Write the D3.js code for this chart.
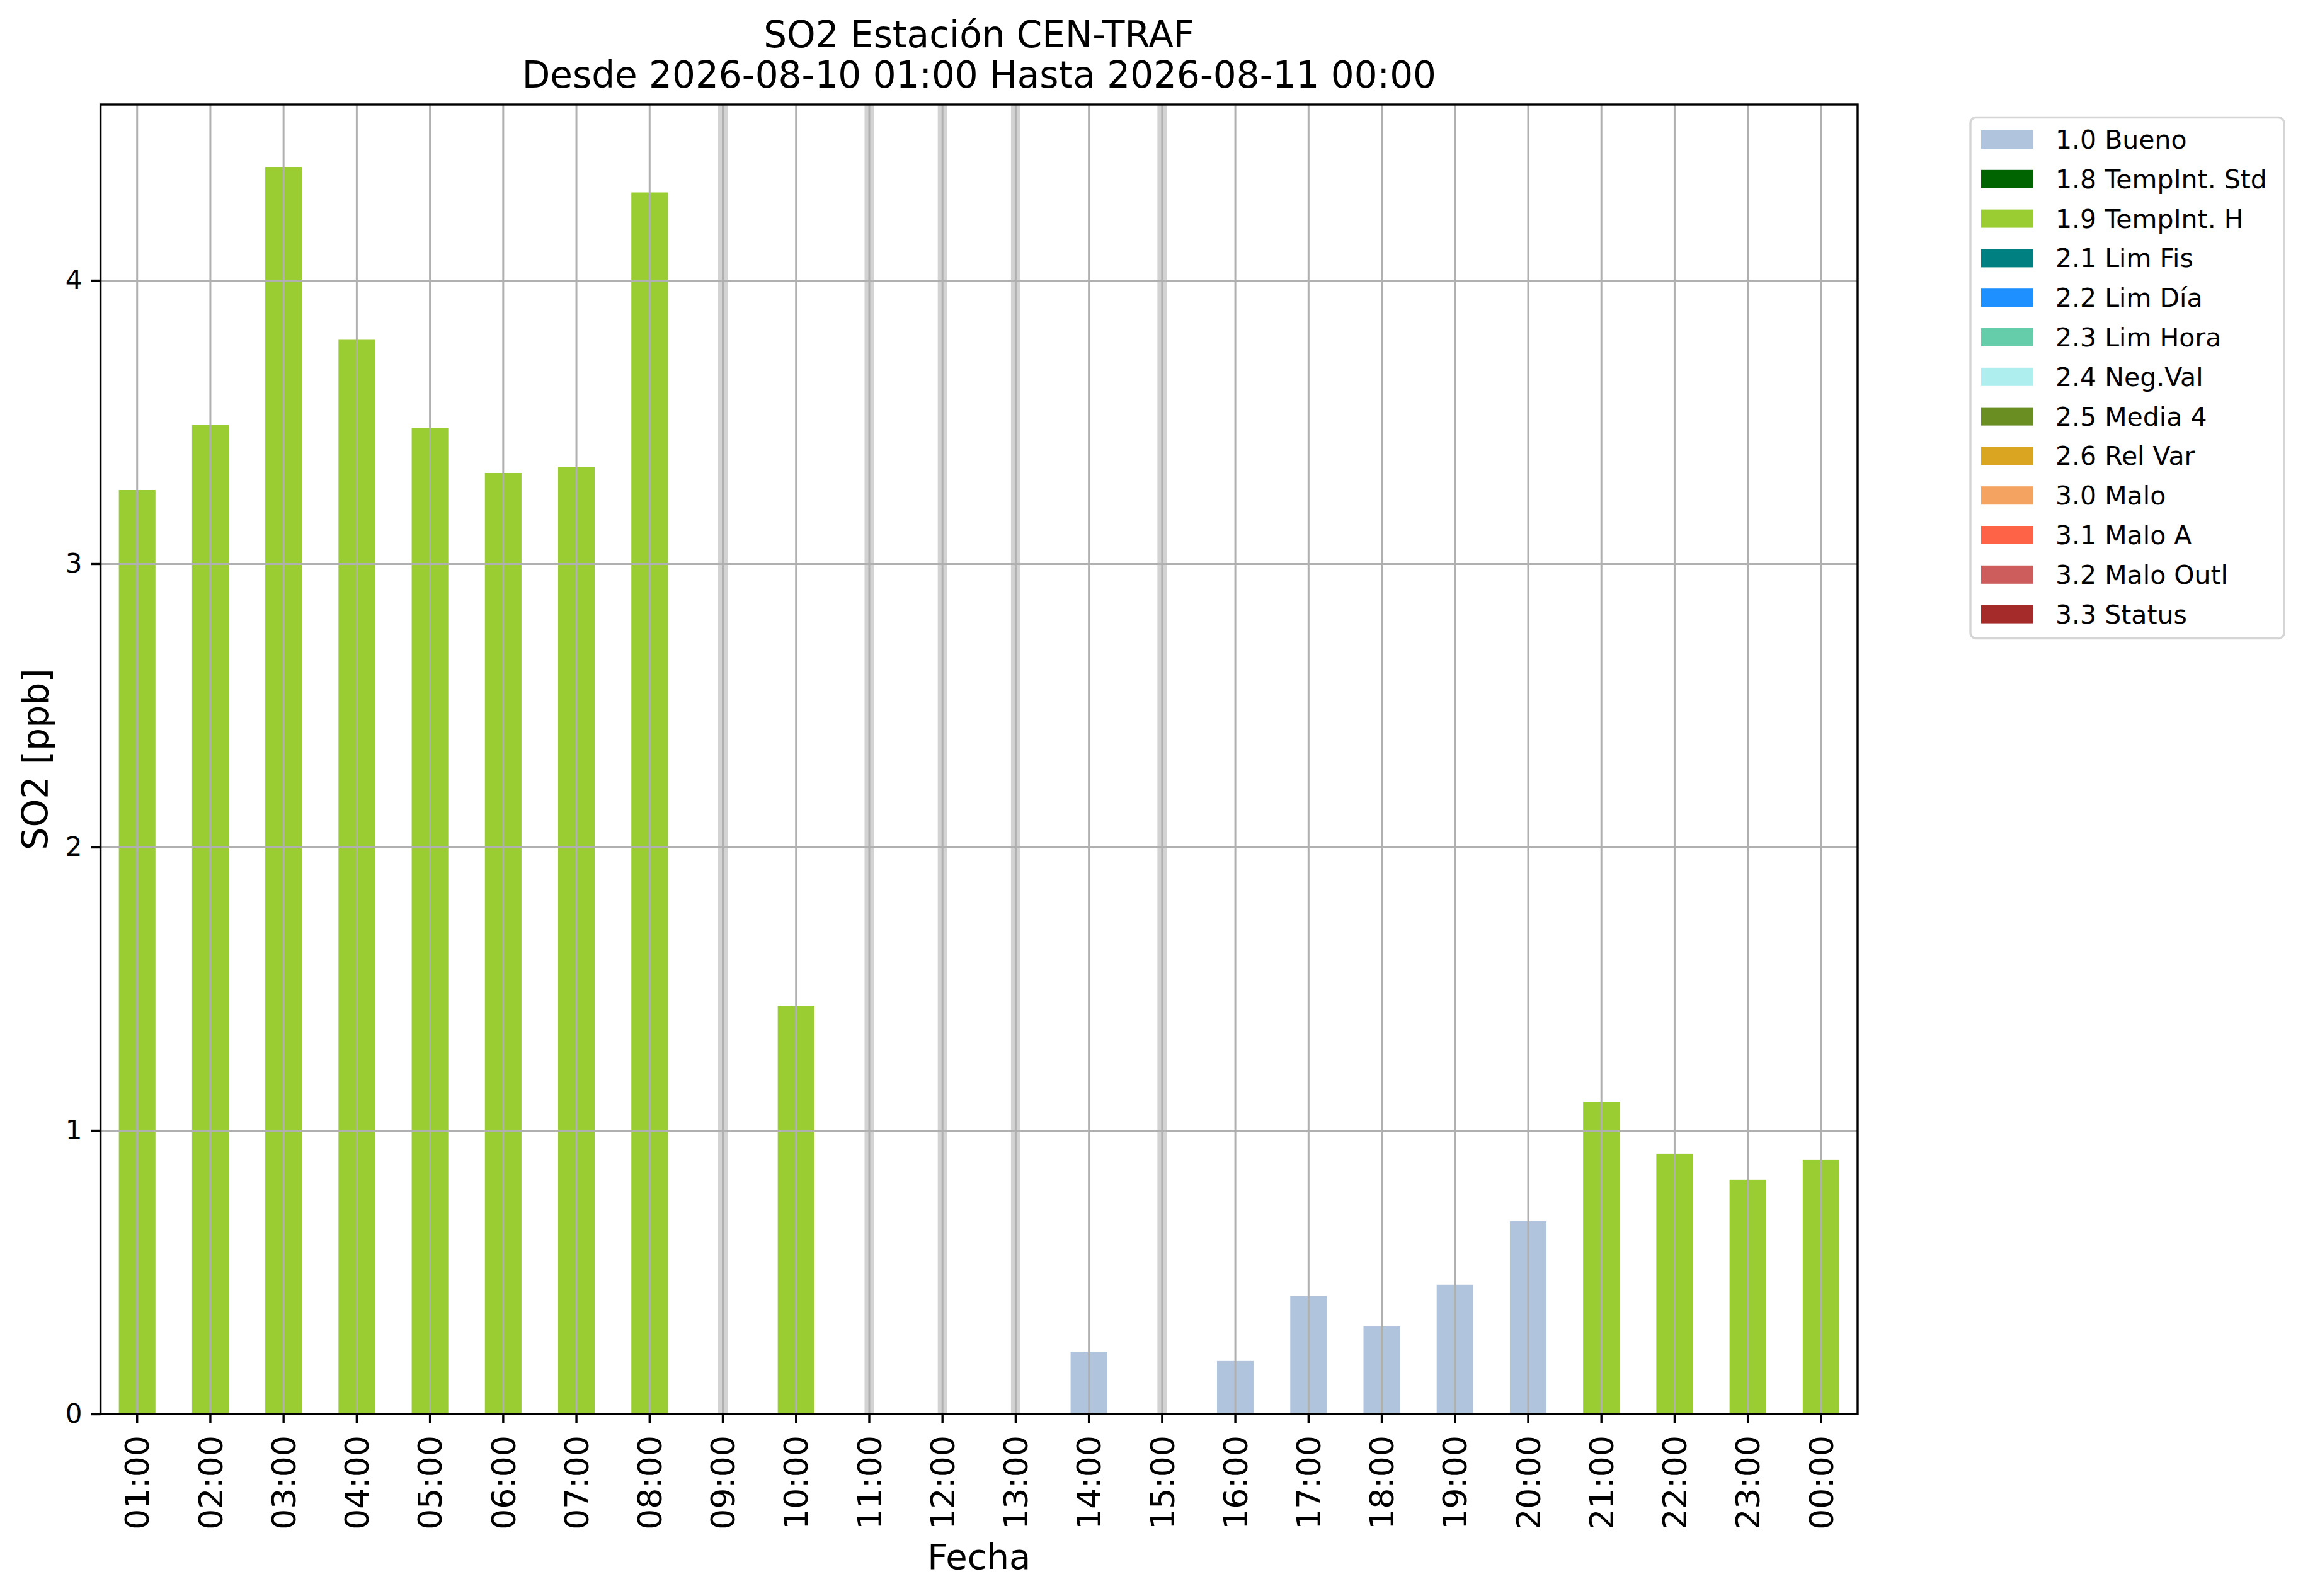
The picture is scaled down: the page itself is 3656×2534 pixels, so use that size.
<!DOCTYPE html>
<html>
<head>
<meta charset="utf-8">
<script src="https://cdn.jsdelivr.net/npm/d3@7"></script>
<style>
  body { margin: 0; background: #fff; }
  text { font-family: "DejaVu Sans", sans-serif; fill: #000; }
</style>
</head>
<body>
<div class="chart-output"></div>
<script>
// horas del dia (eje x)
var hours = ["01:00", "02:00", "03:00", "04:00", "05:00", "06:00", "07:00", "08:00",
             "09:00", "10:00", "11:00", "12:00", "13:00", "14:00", "15:00", "16:00",
             "17:00", "18:00", "19:00", "20:00", "21:00", "22:00", "23:00", "00:00"];

// SO2 [ppb], null = sin dato
var so2 = [3.26, 3.49, 4.40, 3.79, 3.48, 3.32, 3.34, 4.31,
           null, 1.44, null, null, null, 0.22, null, 0.187,
           0.416, 0.309, 0.456, 0.68, 1.102, 0.918, 0.827, 0.898];

// bandera de validacion de cada hora
var flags = ["1.9", "1.9", "1.9", "1.9", "1.9", "1.9", "1.9", "1.9",
             null, "1.9", null, null, null, "1.0", null, "1.0",
             "1.0", "1.0", "1.0", "1.0", "1.9", "1.9", "1.9", "1.9"];

var flagCodes = ["1.0", "1.8", "1.9", "2.1", "2.2", "2.3", "2.4", "2.5", "2.6", "3.0", "3.1", "3.2", "3.3"];
var flagNames = ["1.0 Bueno", "1.8 TempInt. Std", "1.9 TempInt. H", "2.1 Lim Fis", "2.2 Lim Día",
                 "2.3 Lim Hora", "2.4 Neg.Val", "2.5 Media 4", "2.6 Rel Var", "3.0 Malo",
                 "3.1 Malo A", "3.2 Malo Outl", "3.3 Status"];
var flagColors = ["#b0c4de", "#006400", "#9acd32", "#008080", "#1e90ff", "#66cdaa", "#afeeee",
                  "#6b8e23", "#daa520", "#f4a460", "#ff6347", "#cd5c5c", "#a52a2a"];

var yTicks = [0, 1, 2, 3, 4];
var yMax = 4.62;

var W = 3656, H = 2534;
var pLeft = 159.6, pRight = 2949, pTop = 166, pBottom = 2245;

var svg = d3.select(".chart-output")
    .append("svg")
    .attr("width", W)
    .attr("height", H);

svg.append("rect").attr("width", W).attr("height", H).attr("fill", "#fff");

var x = d3.scaleBand()
    .domain(hours)
    .range([pLeft, pRight])
    .paddingInner(0.5)
    .paddingOuter(0.25);

var y = d3.scaleLinear()
    .domain([0, yMax])
    .range([pBottom, pTop]);

var color = d3.scaleOrdinal().domain(flagCodes).range(flagColors);

var data = hours.map(function(h, i) {
    return { hour: h, value: so2[i], flag: flags[i] };
});

// bandas grises para horas sin dato
svg.selectAll("rect.missing")
    .data(data.filter(function(d) { return d.value === null; }))
    .enter()
    .append("rect")
    .attr("class", "missing")
    .attr("x", function(d) { return x(d.hour) + x.bandwidth() / 2 - 7.5; })
    .attr("y", pTop)
    .attr("width", 15)
    .attr("height", pBottom - pTop)
    .attr("fill", "#d3d3d3");

// barras
svg.selectAll("rect.bar")
    .data(data.filter(function(d) { return d.value !== null; }))
    .enter()
    .append("rect")
    .attr("class", "bar")
    .attr("x", function(d) { return x(d.hour); })
    .attr("y", function(d) { return y(d.value); })
    .attr("width", x.bandwidth())
    .attr("height", function(d) { return pBottom - y(d.value); })
    .attr("fill", function(d) { return color(d.flag); });

// grilla
svg.append("g")
    .attr("transform", "translate(0," + pBottom + ")")
    .call(d3.axisBottom(x).tickSize(-(pBottom - pTop)).tickFormat(""))
    .call(function(g) {
        g.select(".domain").remove();
        g.selectAll("line").attr("stroke", "#b0b0b0").attr("stroke-width", 3);
    });

svg.append("g")
    .attr("transform", "translate(" + pLeft + ",0)")
    .call(d3.axisLeft(y).tickValues(yTicks).tickSize(-(pRight - pLeft)).tickFormat(""))
    .call(function(g) {
        g.select(".domain").remove();
        g.selectAll("line").attr("stroke", "#b0b0b0").attr("stroke-width", 3);
    });

// marco
svg.append("rect")
    .attr("x", pLeft).attr("y", pTop)
    .attr("width", pRight - pLeft).attr("height", pBottom - pTop)
    .attr("fill", "none")
    .attr("stroke", "#000")
    .attr("stroke-width", 3.4);

// eje x
var xAxis = svg.append("g")
    .attr("transform", "translate(0," + pBottom + ")")
    .call(d3.axisBottom(x).tickSize(15).tickPadding(0));
xAxis.select(".domain").remove();
xAxis.selectAll("line").attr("stroke", "#000").attr("stroke-width", 3.4);
xAxis.selectAll("text")
    .attr("font-size", 52)
    .attr("font-family", "DejaVu Sans")
    .attr("fill", "#000")
    .attr("text-anchor", "end")
    .attr("transform", "translate(0,34) rotate(-90)")
    .attr("x", 0)
    .attr("y", 0)
    .attr("dy", "0.36em");

// eje y
var yAxis = svg.append("g")
    .attr("transform", "translate(" + pLeft + ",0)")
    .call(d3.axisLeft(y).tickValues(yTicks).tickFormat(d3.format("d")).tickSize(15).tickPadding(14));
yAxis.select(".domain").remove();
yAxis.selectAll("line").attr("stroke", "#000").attr("stroke-width", 3.4);
yAxis.selectAll("text")
    .attr("font-size", 42)
    .attr("font-family", "DejaVu Sans")
    .attr("fill", "#000");

// titulos
var cx = (pLeft + pRight) / 2;
svg.append("text")
    .attr("x", cx).attr("y", 75)
    .attr("text-anchor", "middle")
    .attr("font-size", 58)
    .text("SO2 Estación CEN-TRAF");
svg.append("text")
    .attr("x", cx).attr("y", 139)
    .attr("text-anchor", "middle")
    .attr("font-size", 58)
    .text("Desde 2026-08-10 01:00 Hasta 2026-08-11 00:00");

svg.append("text")
    .attr("x", cx).attr("y", 2491)
    .attr("text-anchor", "middle")
    .attr("font-size", 56)
    .text("Fecha");

svg.append("text")
    .attr("transform", "translate(76," + ((pTop + pBottom) / 2) + ") rotate(-90)")
    .attr("text-anchor", "middle")
    .attr("font-size", 57)
    .text("SO2 [ppb]");

// leyenda
var row = d3.scaleLinear().domain([0, 1]).range([207, 269.8]);
var legend = svg.append("g");
legend.append("rect")
    .attr("x", 3128).attr("y", 186.5)
    .attr("width", 498).attr("height", 827)
    .attr("rx", 9)
    .attr("fill", "#fff")
    .attr("stroke", "#d5d5d5")
    .attr("stroke-width", 3.4);

var items = legend.selectAll("g.item")
    .data(flagNames)
    .enter()
    .append("g")
    .attr("class", "item")
    .attr("transform", function(d, i) { return "translate(0," + row(i) + ")"; });

items.append("rect")
    .attr("x", 3145).attr("y", 0)
    .attr("width", 83).attr("height", 29)
    .attr("fill", function(d, i) { return flagColors[i]; });

items.append("text")
    .attr("x", 3263).attr("y", 29)
    .attr("font-size", 41)
    .text(function(d) { return d; });
</script>
</body>
</html>
